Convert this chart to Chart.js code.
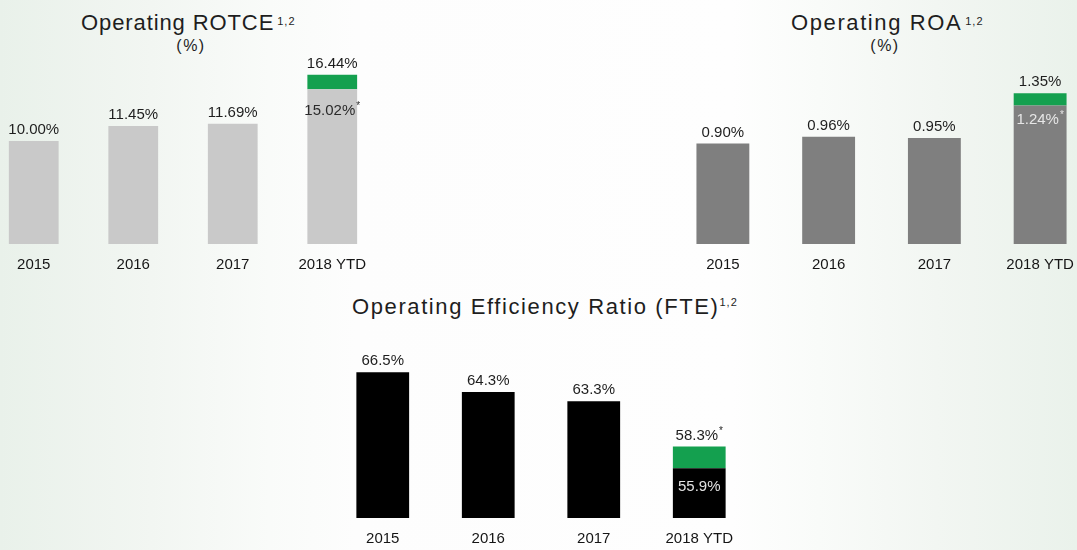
<!doctype html>
<html>
<head>
<meta charset="utf-8">
<title>Operating ROTCE, ROA and Efficiency Ratio</title>
<script src="https://cdn.jsdelivr.net/npm/chart.js@4.4.1/dist/chart.umd.min.js"></script>
<style>
  html, body { margin: 0; padding: 0; }
  body {
    position: relative;
    width: 1077px;
    height: 550px;
    overflow: hidden;
    font-family: "Liberation Sans", Arial, sans-serif;
    color: #1e1e1e;
    background: linear-gradient(90deg, #e9f1ea 0%, #f2f6f2 14%, #f9fbf9 25%, #fdfdfd 33%, #fefefe 68%, #f9fbf9 76%, #f2f6f2 87%, #eaf2eb 100%);
  }
  canvas { position: absolute; }
  .title {
    position: absolute;
    font-size: 22px;
    line-height: 22px;
    letter-spacing: 1.6px;
    white-space: nowrap;
  }
  .title .sup {
    font-size: 11px;
    letter-spacing: 1px;
    vertical-align: 5px;
    margin-left: 3px;
  }
  .unit {
    position: absolute;
    font-size: 16px;
    line-height: 16px;
    letter-spacing: 1.5px;
    transform: translateX(-50%);
  }
</style>
</head>
<body>
  <div class="title" style="left:81px; top:10px; letter-spacing:0.9px;">Operating ROTCE<span class="sup">1,2</span></div>
  <div class="unit" style="left:191px; top:38px;">(%)</div>

  <div class="title" style="left:791px; top:10px;">Operating ROA<span class="sup">1,2</span></div>
  <div class="unit" style="left:885px; top:38px;">(%)</div>

  <div class="title" style="left:352px; top:291px;">Operating Efficiency Ratio (FTE)<span class="sup" style="vertical-align:8px; margin-left:0;">1,2</span></div>

  <canvas id="rotce" width="398" height="274" style="left:-16px; top:0;"></canvas>
  <canvas id="roa" width="423" height="274" style="left:670px; top:0;"></canvas>
  <canvas id="eff" width="422" height="258" style="left:330px; top:290px;"></canvas>

<script>
// categories
var years = ['2015', '2016', '2017', '2018 YTD'];

// Operating ROTCE (%); 2018 YTD shows 15.02* with the cap up to 16.44
var rotceValues = [10.00, 11.45, 11.69, 15.02];
var rotceTop2018 = 16.44;

// Operating ROA (%); 2018 YTD shows 1.24* with the cap up to 1.35
var roaValues = [0.90, 0.96, 0.95, 1.24];
var roaTop2018 = 1.35;

// Operating efficiency ratio (%); 2018 YTD shows 55.9 with the cap up to 58.3*
var effValues = [66.5, 64.3, 63.3, 55.9];
var effTop2018 = 58.3;

var GREEN = '#14a04f';
var FONT = '"Liberation Sans", Arial, sans-serif';

// green cap on the last bar, floating from the base value to the top value
function capData(values, top) {
    return values.map(function (v, i) {
        return i === values.length - 1 ? [v, top] : null;
    });
}

function drawText(ctx, text, star, x, y, color) {
    ctx.fillStyle = color;
    ctx.font = '15px ' + FONT;
    var w = ctx.measureText(text).width;
    var sw = 0;
    if (star) {
        ctx.font = '10px ' + FONT;
        sw = ctx.measureText('*').width + 1;
    }
    var left = x - (w + sw) / 2;
    ctx.font = '15px ' + FONT;
    ctx.textAlign = 'left';
    ctx.fillText(text, left, y);
    if (star) {
        ctx.font = '10px ' + FONT;
        ctx.fillText('*', left + w + 1, y - 4);
    }
}

// value labels: above each bar, plus the lower value inside the capped bar
var barLabels = {
    id: 'barLabels',
    afterDatasetsDraw: function (chart, args, opts) {
        var ctx = chart.ctx;
        var base = chart.getDatasetMeta(0);
        var cap = chart.getDatasetMeta(1);
        var baseData = chart.data.datasets[0].data;
        var capData = chart.data.datasets[1].data;
        var fmt = function (v) { return v.toFixed(opts.decimals) + '%'; };

        ctx.save();
        ctx.textBaseline = 'middle';
        base.data.forEach(function (bar, i) {
            var pair = capData[i];
            if (pair) {
                var seg = cap.data[i];
                drawText(ctx, fmt(pair[1]), opts.star === 'top', seg.x, seg.y - opts.above, opts.color);
                drawText(ctx, fmt(baseData[i]), opts.star === 'inner', bar.x, seg.base + opts.inside, opts.insideColor);
            } else {
                drawText(ctx, fmt(baseData[i]), false, bar.x, bar.y - opts.above, opts.color);
            }
        });
        ctx.restore();
    }
};

function makeChart(id, values, top, color, yMin, yMax, labelOpts) {
    return new Chart(document.getElementById(id), {
        type: 'bar',
        data: {
            labels: years,
            datasets: [{
                data: values,
                backgroundColor: color,
                grouped: false,
                categoryPercentage: 0.5,
                barPercentage: 1
            }, {
                data: capData(values, top),
                backgroundColor: GREEN,
                grouped: false,
                categoryPercentage: 0.5,
                barPercentage: 1
            }]
        },
        options: {
            responsive: false,
            animation: false,
            layout: { padding: 0 },
            plugins: {
                legend: { display: false },
                tooltip: { enabled: false },
                barLabels: labelOpts
            },
            scales: {
                x: {
                    grid: { display: false, drawTicks: false },
                    border: { display: false },
                    ticks: {
                        padding: 12,
                        color: '#151515',
                        font: { size: 15, family: FONT }
                    },
                    afterFit: function (scale) { scale.height = 30; }
                },
                y: { display: false, min: yMin, max: yMax }
            }
        },
        plugins: [barLabels]
    });
}

makeChart('rotce', rotceValues, rotceTop2018, '#c9c9c9', 0, 23.7, {
    decimals: 2, above: 11, inside: 21, star: 'inner',
    color: '#1e1e1e', insideColor: '#2b2b2b'
});

makeChart('roa', roaValues, roaTop2018, '#7f7f7f', 0, 2.185, {
    decimals: 2, above: 11, inside: 14, star: 'inner',
    color: '#1e1e1e', insideColor: '#e6e6e6'
});

makeChart('eff', effValues, effTop2018, '#000000', 50.4, 75.57, {
    decimals: 1, above: 11, inside: 19, star: 'top',
    color: '#1e1e1e', insideColor: '#e2e2e2'
});
</script>
</body>
</html>
